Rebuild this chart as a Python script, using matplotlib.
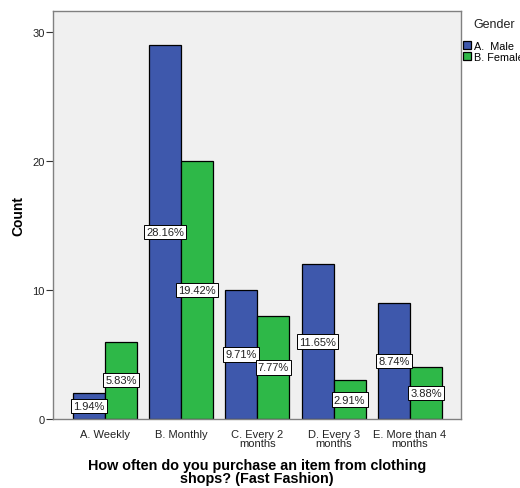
import numpy as np
import matplotlib.pyplot as plt

plt.rcParams['font.family'] = ['Liberation Sans', 'DejaVu Sans']

categories = ['A. Weekly', 'B. Monthly', 'C. Every 2\nmonths', 'D. Every 3\nmonths', 'E. More than 4\nmonths']
male = [2, 29, 10, 12, 9]
female = [6, 20, 8, 3, 4]
male_pct = ['1.94%', '28.16%', '9.71%', '11.65%', '8.74%']
female_pct = ['5.83%', '19.42%', '7.77%', '2.91%', '3.88%']
series_names = ['A.  Male', 'B. Female']


def draw():
    fig = plt.figure(figsize=(5.2, 4.89), dpi=100)
    ax = fig.add_axes([53 / 520, 1 - 420 / 489, 408 / 520, 408 / 489])
    ax.set_facecolor('#f0f0f0')

    x = np.arange(len(categories))
    w = 0.42
    blue = '#3e58ac'
    green = '#2eb848'
    b1 = ax.bar(x - w / 2, male, w, color=blue, edgecolor='black', linewidth=0.9, label=series_names[0])
    b2 = ax.bar(x + w / 2, female, w, color=green, edgecolor='black', linewidth=0.9, label=series_names[1])

    box = dict(boxstyle='square,pad=0.2', facecolor='white', edgecolor='black', linewidth=0.7)
    for bars, labels in [(b1, male_pct), (b2, female_pct)]:
        for rect, txt in zip(bars, labels):
            ax.text(rect.get_x() + rect.get_width() / 2, rect.get_height() / 2, txt,
                    ha='center', va='center', fontsize=8, bbox=box, color='#222222')

    ax.set_xlim(-0.68, 4.67)
    ax.set_ylim(0, 31.6)
    ax.set_yticks([0, 10, 20, 30])
    ax.set_xticks(x)
    ax.set_xticklabels(categories, fontsize=8, linespacing=0.95, color='#222222')
    ax.tick_params(axis='x', length=0, pad=7)
    ax.tick_params(axis='y', length=5, labelsize=8, pad=1, color='#333333', labelcolor='#222222')
    for s in ax.spines.values():
        s.set_color('#808080')
        s.set_linewidth(1.0)

    ax.set_ylabel('Count', fontsize=10, fontweight='bold', labelpad=5)
    ax.set_xlabel('How often do you purchase an item from clothing\nshops? (Fast Fashion)',
                  fontsize=10.4, fontweight='bold', labelpad=7, linespacing=0.92)

    fig.text(473 / 520, 1 - 25 / 489, 'Gender', fontsize=9, ha='left', va='center', color='#222222')
    fig.legend(handles=[b1, b2], labels=series_names,
               loc='upper left', bbox_to_anchor=(463 / 520, 1 - 42 / 489),
               frameon=False, fontsize=7.8, handlelength=0.75, handleheight=0.8,
               handletextpad=0.3, labelspacing=0.05, borderaxespad=0, borderpad=0)

    fig.savefig('out.png', dpi=100)


def main():
    draw()


if __name__ == '__main__':
    main()
